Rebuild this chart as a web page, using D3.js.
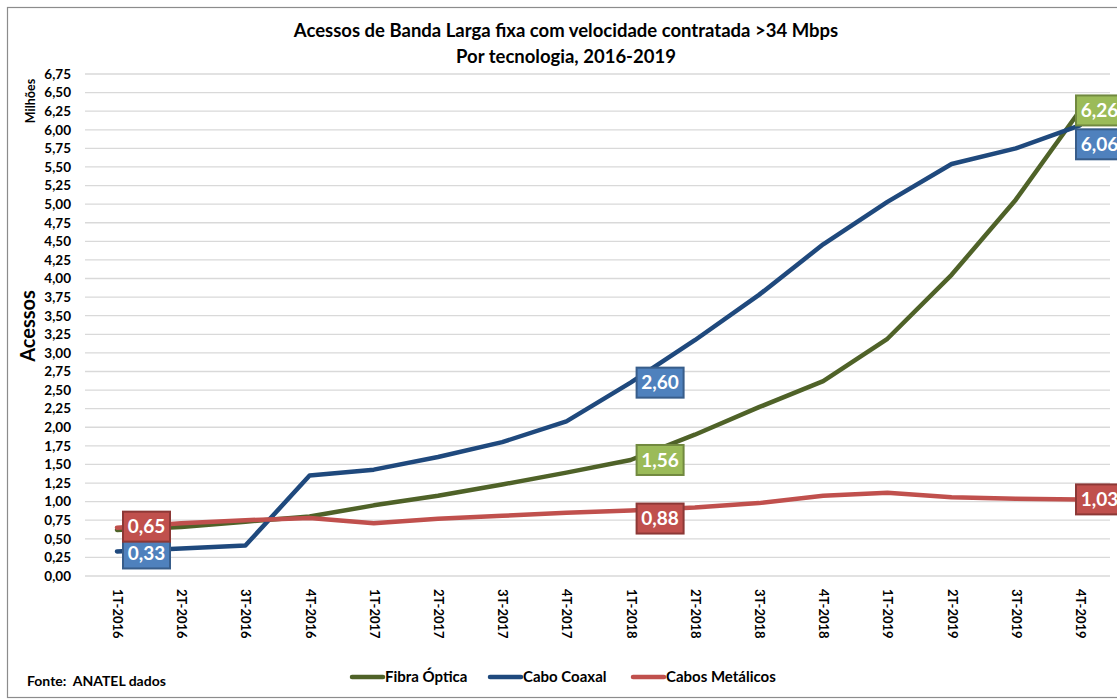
<!DOCTYPE html>
<html lang="pt">
<head>
<meta charset="UTF-8">
<title>Acessos de Banda Larga fixa</title>
<script src="https://d3js.org/d3.v7.min.js"></script>
<style>
    body { margin: 0; background: #fff; }
    svg text { font-family: "Lato", "Open Sans", sans-serif; font-weight: bold; fill: #000; }
    .grid line { stroke: #d9d9d9; stroke-width: 1.3px; }
    .series { fill: none; stroke-width: 4.5px; stroke-linejoin: round; stroke-linecap: round; }
</style>
</head>
<body>
<script>
const quarters = ["1T-2016", "2T-2016", "3T-2016", "4T-2016",
                  "1T-2017", "2T-2017", "3T-2017", "4T-2017",
                  "1T-2018", "2T-2018", "3T-2018", "4T-2018",
                  "1T-2019", "2T-2019", "3T-2019", "4T-2019"];

const fibra   = [0.62, 0.66, 0.73, 0.80, 0.95, 1.08, 1.23, 1.39, 1.56, 1.90, 2.27, 2.62, 3.19, 4.05, 5.06, 6.26];
const coaxal  = [0.33, 0.37, 0.41, 1.35, 1.43, 1.60, 1.80, 2.08, 2.60, 3.17, 3.78, 4.46, 5.03, 5.54, 5.75, 6.06];
const metalic = [0.65, 0.71, 0.75, 0.78, 0.71, 0.77, 0.81, 0.85, 0.88, 0.92, 0.98, 1.08, 1.12, 1.06, 1.04, 1.03];

const yTicks = d3.range(0, 6.76, 0.25);

// pontos com rótulo: índice do trimestre e deslocamento vertical
const series = [
    { name: "Fibra Óptica",    values: fibra,   line: "#4f6228", fill: "#9bbb59", edge: "#71893f",
      labels: [[8, 0], [15, 0]] },
    { name: "Cabo Coaxal",     values: coaxal,  line: "#1f497d", fill: "#4f81bd", edge: "#385d8a",
      labels: [[0, 2], [8, 0], [15, 19]] },
    { name: "Cabos Metálicos", values: metalic, line: "#c0504d", fill: "#c0504d", edge: "#8c3836",
      labels: [[0, -1], [8, 8], [15, 0]] }
];

const W = 1117, H = 700;
const svg = d3.select("body").append("svg").attr("width", W).attr("height", H);

// moldura do gráfico
svg.append("rect").attr("x", 7.5).attr("y", 7.5).attr("width", W + 10).attr("height", 690)
    .attr("fill", "none").attr("stroke", "#8c8c8c").attr("stroke-width", 1.2);

const x = d3.scalePoint().domain(quarters).range([117, 1080]);
const y = d3.scaleLinear().domain([0, 6.75]).range([576, 74]);
const fmt = v => d3.format(".2f")(v).replace(".", ",");

// grade
svg.append("g").attr("class", "grid")
    .selectAll("line").data(yTicks).join("line")
    .attr("x1", 85).attr("x2", 1110)
    .attr("y1", d => y(d)).attr("y2", d => y(d));

// eixo y
const yAxis = svg.append("g").attr("transform", "translate(74,0)")
    .call(d3.axisLeft(y).tickValues(yTicks).tickFormat(fmt).tickSize(0).tickPadding(3));
yAxis.select(".domain").remove();
yAxis.selectAll("text").style("font-size", "13.5px").attr("fill", "#000");

// eixo x
const xAxis = svg.append("g").attr("transform", "translate(0,589)")
    .call(d3.axisBottom(x).tickSize(0));
xAxis.select(".domain").remove();
xAxis.selectAll("text")
    .style("font-size", "13px").attr("fill", "#000")
    .attr("transform", "rotate(90)")
    .attr("x", 0).attr("y", 0).attr("dy", "0.35em")
    .attr("text-anchor", "start");

// títulos
svg.append("text").attr("x", 566).attr("y", 37).attr("text-anchor", "middle")
    .style("font-size", "18.5px").text("Acessos de Banda Larga fixa com velocidade contratada >34 Mbps");
svg.append("text").attr("x", 566).attr("y", 63).attr("text-anchor", "middle")
    .style("font-size", "18.5px").text("Por tecnologia, 2016-2019");
svg.append("text").attr("transform", "translate(35,101) rotate(-90)").attr("text-anchor", "middle")
    .style("font-size", "12.5px").text("Milhões");
svg.append("text").attr("transform", "translate(35,326) rotate(-90)").attr("text-anchor", "middle")
    .style("font-size", "20px").text("Acessos");

// linhas
const line = d3.line().x((d, i) => x(quarters[i])).y(d => y(d));
svg.selectAll(".series").data(series).join("path")
    .attr("class", "series")
    .attr("stroke", d => d.line)
    .attr("d", d => line(d.values));

// rótulos de dados
const boxW = 47, boxH = 30;
series.forEach(s => {
    s.labels.forEach(([idx, dy]) => {
        const px = x(quarters[idx]);
        const bx = idx === quarters.length - 1 ? px - 4 : px + 6;
        const cy = y(s.values[idx]) + dy;
        const g = svg.append("g");
        g.append("rect").attr("x", bx).attr("y", cy - boxH / 2)
            .attr("width", boxW).attr("height", boxH)
            .attr("fill", s.fill).attr("stroke", s.edge).attr("stroke-width", 2);
        g.append("text").attr("x", bx + boxW / 2).attr("y", cy).attr("dy", "0.36em")
            .attr("text-anchor", "middle").style("font-size", "19px").style("fill", "#fff")
            .text(fmt(s.values[idx]));
    });
});

// legenda
const legX = [352, 490, 633];
const leg = svg.selectAll(".leg").data(series).join("g")
    .attr("class", "leg")
    .attr("transform", (d, i) => `translate(${legX[i]},677)`);
leg.append("line").attr("x1", 0).attr("x2", 31)
    .attr("stroke", d => d.line).attr("stroke-width", 4.5).attr("stroke-linecap", "round");
leg.append("text").attr("x", 33).attr("dy", "0.36em").style("font-size", "15px").text(d => d.name);

svg.append("text").attr("x", 27).attr("y", 686).style("font-size", "14px")
    .style("white-space", "pre").text("Fonte:  ANATEL dados");
</script>
</body>
</html>
